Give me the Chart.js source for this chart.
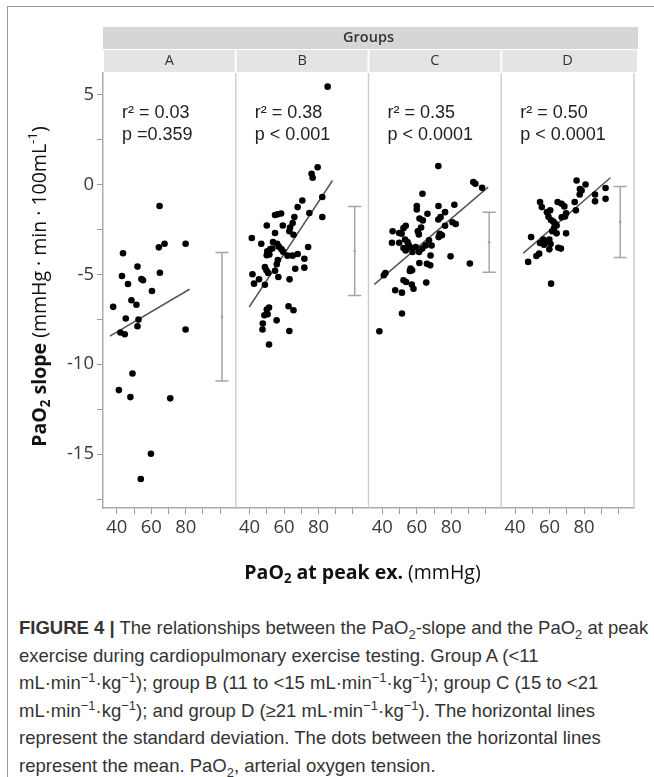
<!DOCTYPE html>
<html>
<head>
<meta charset="utf-8">
<script src="https://cdn.jsdelivr.net/npm/chart.js@4.4.0/dist/chart.umd.min.js"></script>
<style>
  body { margin: 0; background: #fff; }
  #frame { position: absolute; left: 7px; top: 6px; width: 647px; height: 771px;
           border-left: 1px solid #9a9a9a; border-top: 1px solid #9a9a9a; }
  #wrap { position: absolute; left: 0; top: 0; width: 654px; height: 600px; }
  #caption { position: absolute; left: 19px; top: 614px; color: #333; white-space: nowrap;
             font-family: "Liberation Sans", Arial, sans-serif;
             font-size: 18.5px; line-height: 27.5px; }
  #caption sub, #caption sup { font-size: 13px; line-height: 0; }
</style>
</head>
<body>
<div id="frame"></div>
<div id="wrap"><canvas id="paoChart" width="654" height="600"></canvas></div>
<div id="caption">
  <b>FIGURE 4 |</b> The relationships between the PaO<sub>2</sub>-slope and the PaO<sub>2</sub> at peak<br>
  exercise during cardiopulmonary exercise testing. Group A (&lt;11<br>
  mL·min<sup>−1</sup>·kg<sup>−1</sup>); group B (11 to &lt;15 mL·min<sup>−1</sup>·kg<sup>−1</sup>); group C (15 to &lt;21<br>
  mL·min<sup>−1</sup>·kg<sup>−1</sup>); and group D (≥21 mL·min<sup>−1</sup>·kg<sup>−1</sup>). The horizontal lines<br>
  represent the standard deviation. The dots between the horizontal lines<br>
  represent the mean. PaO<sub>2</sub>, arterial oxygen tension.
</div>
<script>
// groups and stats text
const groupNames = ['A', 'B', 'C', 'D'];
const r2Text = ['0.03', '0.38', '0.35', '0.50'];
const pText = ['p =0.359', 'p < 0.001', 'p < 0.0001', 'p < 0.0001'];

// ticks
const yTicks = [-17.5, -15, -12.5, -10, -7.5, -5, -2.5, 0, 2.5, 5];
const xTicks = [40, 50, 60, 70, 80, 90, 100];
const xLabels = [40, 60, 80];

// points (PaO2 at peak, PaO2 slope)
const aX = [64.8, 64.4, 67.7, 79.9, 43.6, 52, 43, 65, 54.3, 55.2, 46.5, 60.4, 37.9, 48.5, 51.4, 45.2, 52.6, 52, 42.1, 44.6, 79.9, 49.1, 41.2, 47.9, 71, 59.8, 53.9];
const aY = [-1.2, -3.5, -3.3, -3.3, -3.83, -4.57, -5.09, -4.91, -5.26, -5.33, -5.54, -5.93, -6.81, -6.44, -6.69, -7.46, -7.52, -7.89, -8.24, -8.33, -8.07, -10.52, -11.44, -11.83, -11.9, -14.98, -16.39];

const bX = [85.3, 79.5, 76, 76.6, 82.2, 70.6, 67.9, 74.7, 82.2, 54.8, 56.4, 58.3, 66, 65, 50, 59.3, 63.5, 63.1, 54.8, 65.5, 41.3, 46.8, 53.6, 56, 57, 58.5, 59.5, 74, 50.3, 52, 53.2, 50, 51.5, 62, 65, 67.9, 56.4, 55.8, 71.8, 71.8, 66.5, 48.9, 49.8, 50.8, 54.8, 41.7, 45.5, 42.6, 48.9, 56.7, 63.2, 51.3, 50, 62.6, 65.5, 48.6, 50.5, 55.7, 47.7, 47.5, 63.1, 51.3];
const bY = [5.44, 0.96, 0.59, 0.37, -0.7, -0.89, -1.26, -1.59, -1.81, -1.7, -1.66, -1.62, -1.81, -2.15, -2.28, -2.28, -2.4, -2.6, -2.7, -2.8, -2.98, -3.3, -3.2, -3.3, -3.46, -3.6, -3.74, -3.48, -3.72, -3.6, -3.56, -3.94, -3.9, -3.96, -3.96, -3.87, -4.2, -4.44, -4.13, -4.63, -4.69, -4.6, -4.78, -4.93, -4.8, -5.0, -5.28, -5.52, -5.58, -5.15, -5.28, -6.85, -6.96, -6.78, -7.0, -7.28, -7.22, -7.56, -7.74, -8.07, -8.15, -8.9];

const cX = [72.5, 92.8, 94, 97.9, 63.3, 81.8, 72.6, 60, 60, 76.4, 66.2, 61.6, 63.5, 72.5, 73.8, 82.6, 80.7, 76.4, 53.6, 52.3, 62.5, 60.6, 61.2, 46, 49.8, 51.2, 73.3, 72.7, 74.6, 67.1, 45.6, 49.8, 53.2, 54.6, 55.2, 56, 52.3, 53.6, 57.5, 59.4, 61.3, 63.2, 65.1, 68.6, 68, 79.6, 90.8, 61.5, 65.9, 67.8, 56.4, 57.3, 56, 41.8, 40.9, 65.5, 52.3, 53.8, 57.1, 58.1, 47.5, 51.4, 51.4, 38.3];
const cY = [1.02, 0.13, 0.04, -0.19, -0.52, -1.13, -1.2, -1.2, -1.39, -1.54, -1.63, -1.9, -2.0, -1.95, -1.82, -2.2, -2.1, -2.3, -2.3, -2.43, -2.4, -2.6, -2.78, -2.6, -2.7, -2.74, -2.74, -2.93, -2.83, -3.11, -3.24, -3.24, -3.06, -3.2, -3.35, -3.48, -3.54, -3.67, -3.76, -3.48, -3.76, -3.57, -3.39, -3.4, -3.95, -4.0, -4.4, -4.37, -4.41, -4.5, -4.68, -4.78, -4.81, -4.93, -5.05, -5.46, -5.33, -5.43, -5.57, -5.8, -5.89, -6.02, -7.18, -8.17];

const dX = [75.7, 80.9, 77.6, 78.6, 92.5, 86.4, 77.5, 92.5, 86.4, 74.6, 64.7, 67, 54.5, 55.5, 68.6, 60.4, 58.5, 75.3, 69.6, 69, 67.1, 59.4, 60.8, 63.2, 62.2, 64.1, 62.6, 49.3, 61.6, 64.1, 69.6, 56.4, 58.3, 59.9, 54.5, 56.8, 60.6, 65.1, 59.9, 66.6, 54, 52.4, 47.6, 60.9];
const dY = [0.22, 0.0, -0.25, -0.34, -0.2, -0.56, -0.56, -0.8, -0.94, -0.98, -0.98, -1.07, -0.98, -1.26, -1.22, -1.44, -1.54, -1.44, -1.6, -1.78, -1.83, -1.8, -1.98, -2.17, -2.07, -2.28, -2.43, -2.93, -2.6, -2.72, -2.72, -3.07, -3.17, -3.07, -3.26, -3.35, -3.31, -3.52, -3.61, -3.57, -3.85, -3.98, -4.31, -5.52];

// regression line ends
const fitX = [[36, 82.2], [39.8, 88.1], [35.4, 101.4], [44.8, 95.3]];
const fitY = [[-8.44, -5.83], [-6.82, 0.22], [-5.56, -0.15], [-3.82, 0.37]];

// mean +/- SD column
const errX = [101, 101, 102, 101];
const errMean = [-7.36, -3.7, -3.22, -2.09];
const errSD = [3.58, 2.48, 1.67, 1.98];

const allX = [aX, bX, cX, dX];
const allY = [aY, bY, cY, dY];

const capHalf = 3.8;
const tickFont = { family: 'Open Sans', size: 18.5 };
const datasets = [];
const scales = {
  y: {
    min: -18, max: 6.2, position: 'left',
    afterFit: s => { s.width = 103; },
    afterBuildTicks: s => { s.ticks = yTicks.map(v => ({ value: v })); },
    ticks: { font: tickFont, color: '#3a3a3a', padding: 3, callback: v => (v % 5 === 0 ? v : '') },
    grid: { drawOnChartArea: false, tickLength: 6, color: '#999' },
    border: { color: '#aaa', width: 1.5 }
  }
};

groupNames.forEach((g, i) => {
  const axis = 'x' + g;
  scales[axis] = {
    type: 'linear', position: 'bottom', stack: 'groups', stackWeight: 1,
    min: 32, max: 109,
    afterFit: s => { s.height = 92; },
    afterBuildTicks: s => { s.ticks = xTicks.map(v => ({ value: v })); },
    ticks: { font: tickFont, color: '#3a3a3a', autoSkip: false, maxRotation: 0, padding: 3,
             callback: v => (xLabels.includes(v) ? v : '') },
    grid: { drawOnChartArea: false, tickLength: 6, color: '#999' },
    border: { color: '#aaa', width: 1.5 }
  };
  datasets.push({
    label: g, xAxisID: axis,
    data: allX[i].map((x, k) => ({ x: x, y: allY[i][k] })),
    backgroundColor: '#000', borderWidth: 0, pointRadius: 3.3
  });
  datasets.push({
    xAxisID: axis, showLine: true, pointRadius: 0, borderColor: '#555', borderWidth: 1.5,
    data: [{ x: fitX[i][0], y: fitY[i][0] }, { x: fitX[i][1], y: fitY[i][1] }]
  });
  const top = errMean[i] + errSD[i], bot = errMean[i] - errSD[i];
  [[errX[i], top, errX[i], bot],
   [errX[i] - capHalf, top, errX[i] + capHalf, top],
   [errX[i] - capHalf, bot, errX[i] + capHalf, bot]].forEach(l => {
    datasets.push({
      xAxisID: axis, showLine: true, pointRadius: 0, borderColor: '#a5a5a5', borderWidth: 1.5,
      data: [{ x: l[0], y: l[1] }, { x: l[2], y: l[3] }]
    });
  });
  datasets.push({
    xAxisID: axis, pointRadius: 1.2, backgroundColor: '#888', borderWidth: 0,
    data: [{ x: errX[i], y: errMean[i] }]
  });
});

// draw text pieces with sub/superscripts in a row
function richText(ctx, parts, cx, cy, size) {
  const fontOf = p => (p.bold ? 'bold ' : '') + (p.small ? size * 0.68 : size) + 'px "Open Sans"';
  let total = 0;
  parts.forEach(p => { ctx.font = fontOf(p); total += ctx.measureText(p.t).width; });
  let x = cx - total / 2;
  ctx.textAlign = 'left';
  ctx.textBaseline = 'middle';
  parts.forEach(p => {
    ctx.font = fontOf(p);
    const dy = p.small ? (p.sub ? size * 0.3 : -size * 0.35) : 0;
    ctx.fillText(p.t, x, cy + dy);
    x += ctx.measureText(p.t).width;
  });
}

const panelDecor = {
  id: 'panelDecor',
  beforeDatasetsDraw(chart) {
    const ctx = chart.ctx, ca = chart.chartArea;
    ctx.save();
    ctx.strokeStyle = '#cfcfcf';
    ctx.lineWidth = 1.5;
    groupNames.forEach(g => {
      const s = chart.scales['x' + g];
      ctx.beginPath();
      ctx.moveTo(s.right, ca.top);
      ctx.lineTo(s.right, ca.bottom);
      ctx.stroke();
    });
    ctx.restore();
  },
  afterDraw(chart) {
    const ctx = chart.ctx, ca = chart.chartArea;
    ctx.save();
    // header bands
    ctx.fillStyle = '#d6d6d6';
    ctx.fillRect(ca.left, ca.top - 46, ca.right - ca.left + 4, 22);
    ctx.fillStyle = '#333';
    ctx.font = '600 14.5px "Open Sans"';
    ctx.textAlign = 'center';
    ctx.textBaseline = 'middle';
    ctx.fillText('Groups', (ca.left + ca.right) / 2, ca.top - 35);
    groupNames.forEach((g, i) => {
      const s = chart.scales['x' + g];
      ctx.fillStyle = '#e4e4e4';
      ctx.fillRect(s.left + 1, ca.top - 23, s.right - s.left - 2 + (i === 3 ? 4 : 0), 22);
      ctx.fillStyle = '#333';
      ctx.font = '14.5px "Open Sans"';
      ctx.textAlign = 'center';
      ctx.fillText(g, (s.left + s.right) / 2, ca.top - 12);
      // r2 and p
      ctx.fillStyle = '#222';
      ctx.textAlign = 'left';
      ctx.font = '18px "Liberation Sans"';
      ctx.fillText('r² = ' + r2Text[i], s.left + 19, ca.top + 40);
      ctx.fillText(pText[i], s.left + 19, ca.top + 62);
    });
    // axis titles
    ctx.fillStyle = '#111';
    richText(ctx, [
      { t: 'PaO', bold: true }, { t: '2', bold: true, small: true, sub: true },
      { t: ' at peak ex.', bold: true }, { t: ' (mmHg)' }
    ], (ca.left + ca.right) / 2 - 6, 573, 19.5);
    ctx.translate(40, (ca.top + ca.bottom) / 2 - 4);
    ctx.rotate(-Math.PI / 2);
    richText(ctx, [
      { t: 'PaO', bold: true }, { t: '2', bold: true, small: true, sub: true },
      { t: ' slope', bold: true }, { t: ' (mmHg · min · 100mL' },
      { t: '-1', small: true }, { t: ')' }
    ], 0, 0, 19.5);
    ctx.restore();
  }
};

const paoChart = new Chart(document.getElementById('paoChart'), {
  type: 'scatter',
  data: { datasets: datasets },
  options: {
    responsive: false,
    animation: false,
    layout: { padding: { top: 73, right: 20, left: 0, bottom: 0 } },
    plugins: { legend: { display: false }, tooltip: { enabled: false } },
    scales: scales
  },
  plugins: [panelDecor]
});
</script>
</body>
</html>
